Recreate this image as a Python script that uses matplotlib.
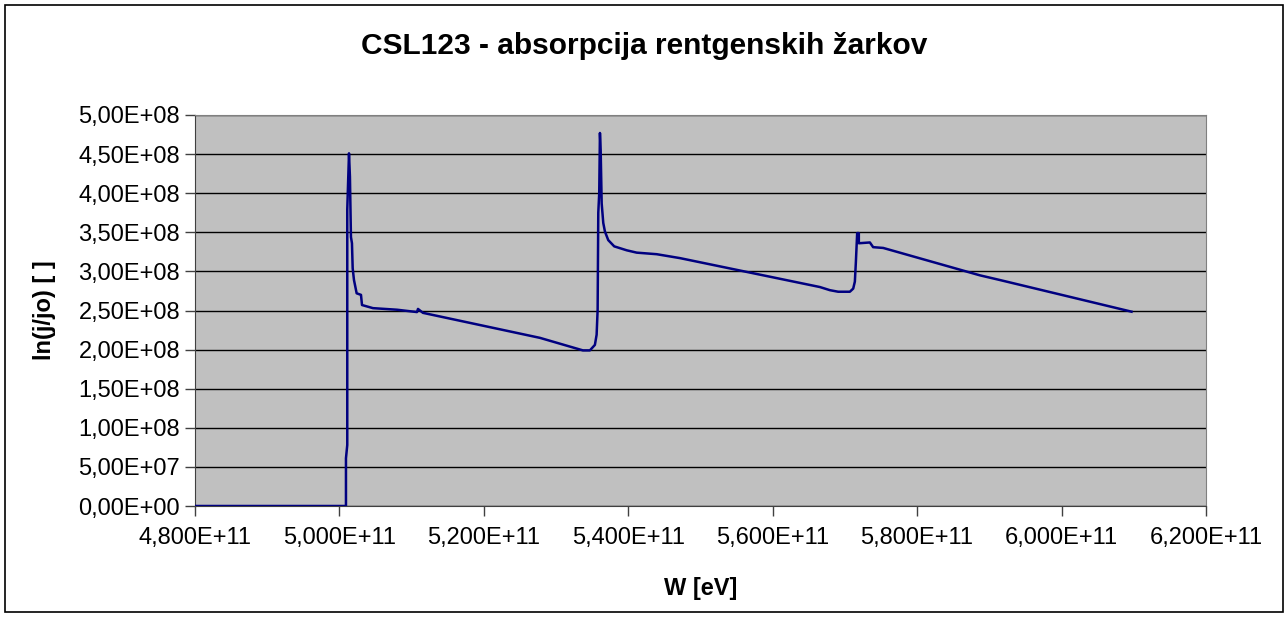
import matplotlib
matplotlib.use("Agg")
import matplotlib.pyplot as plt
from matplotlib.patches import Rectangle
from matplotlib.ticker import FuncFormatter, MultipleLocator

plt.rcParams['font.family'] = ['Liberation Sans', 'DejaVu Sans']

# energy W [1e11 eV] and ln(j/jo) [1e8]
w = [4.80, 5.0094, 5.0094, 5.0112, 5.0112, 5.0136, 5.0149, 5.0163, 5.0177,
     5.0187, 5.0205, 5.0242, 5.0302, 5.0316, 5.0468, 5.0800, 5.1077, 5.1091,
     5.1160, 5.2780, 5.3374, 5.3471, 5.3540, 5.3564, 5.3578, 5.3587, 5.3600,
     5.3610, 5.3620, 5.3634, 5.3656, 5.3679, 5.3725, 5.3808, 5.3980, 5.4118,
     5.4395, 5.4717, 5.6655, 5.6793, 5.6908, 5.7070, 5.7116, 5.7139, 5.7153,
     5.7171, 5.7194, 5.7194, 5.7347, 5.7392, 5.7531, 5.8869, 5.9146, 6.0969]
lnj = [0.0, 0.0, 0.61, 0.78, 3.79, 4.51, 4.21, 3.44, 3.36,
       3.04, 2.89, 2.72, 2.70, 2.57, 2.53, 2.51, 2.48, 2.52,
       2.47, 2.15, 1.99, 1.99, 2.06, 2.19, 2.51, 3.75, 4.00,
       4.77, 4.55, 3.87, 3.62, 3.51, 3.40, 3.32, 3.27, 3.24,
       3.22, 3.17, 2.80, 2.76, 2.74, 2.74, 2.78, 2.87, 3.12,
       3.49, 3.49, 3.36, 3.37, 3.31, 3.30, 2.95, 2.89, 2.485]

x = [v * 1e11 for v in w]
y = [v * 1e8 for v in lnj]

fig = plt.figure(figsize=(12.88, 6.18), dpi=100)
W, H = 1288, 618
ax = fig.add_axes([194.7 / W, 1 - 506 / H, (1206 - 194.7) / W, (506 - 115) / H])

fig.patches.append(Rectangle((5 / W, 6 / H), 1278 / W, 607 / H, transform=fig.transFigure,
                             fill=False, edgecolor='black', linewidth=1.2))

ax.set_facecolor('#C0C0C0')
ax.plot(x, y, color='#000080', linewidth=1.8, zorder=3)

ax.set_xlim(4.8e11, 6.2e11)
ax.set_ylim(0, 5e8)
ax.xaxis.set_major_locator(MultipleLocator(0.2e11))
ax.yaxis.set_major_locator(MultipleLocator(0.5e8))
ax.xaxis.set_major_formatter(FuncFormatter(lambda v, p: f"{v:.3E}".replace('.', ',')))
ax.yaxis.set_major_formatter(FuncFormatter(lambda v, p: f"{v:.2E}".replace('.', ',')))
ax.grid(axis='y', color='black', linewidth=1.0)
ax.set_axisbelow(True)

for s in ['top', 'right']:
    ax.spines[s].set_color('#808080')
for s in ['left', 'bottom']:
    ax.spines[s].set_color('#404040')
ax.tick_params(axis='both', direction='out', length=7, width=1, colors='#404040',
               labelcolor='black', labelsize=17)
ax.tick_params(axis='x', pad=8)

fig.text(0.5, 1 - 46 / H, "CSL123 - absorpcija rentgenskih žarkov", fontsize=21.5,
         fontweight='bold', ha='center', va='center')
ax.set_xlabel("W [eV]", fontsize=17, fontweight='bold', labelpad=20)
fig.text(45 / W, 1 - 310 / H, "ln(j/jo) [ ]", rotation=90, fontsize=17, fontweight='bold',
         ha='center', va='center')

fig.savefig("out.png", dpi=100)
